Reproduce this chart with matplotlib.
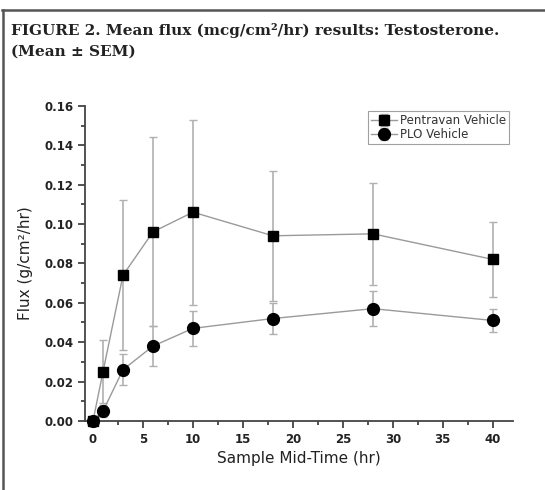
import matplotlib.pyplot as plt
from matplotlib.lines import Line2D

# Sample mid-times (hr)
time_hr = [0, 1, 3, 6, 10, 18, 28, 40]

# Pentravan vehicle: mean flux and SEM
pentravan_mean = [0.0, 0.025, 0.074, 0.096, 0.106, 0.094, 0.095, 0.082]
pentravan_sem = [0.0, 0.016, 0.038, 0.048, 0.047, 0.033, 0.026, 0.019]

# PLO vehicle: mean flux and SEM
plo_mean = [0.0, 0.005, 0.026, 0.038, 0.047, 0.052, 0.057, 0.051]
plo_sem = [0.0, 0.003, 0.008, 0.010, 0.009, 0.008, 0.009, 0.006]

fig = plt.figure(figsize=(5.45, 4.9), dpi=100)
fig.patch.set_facecolor('white')

# frame lines of the cropped figure box (top and left)
fig.add_artist(Line2D([0.004, 1.0], [0.979, 0.979], color='#555555', lw=1.8))
fig.add_artist(Line2D([0.006, 0.006], [0.0, 0.979], color='#555555', lw=1.8))

fig.text(0.020, 0.929, 'FIGURE 2. Mean flux (mcg/cm²/hr) results: Testosterone.',
         family='DejaVu Serif', weight='bold', fontsize=11, color='#222222')
fig.text(0.020, 0.887, '(Mean ± SEM)',
         family='DejaVu Serif', weight='bold', fontsize=11, color='#222222')

ax = fig.add_axes([0.156, 0.141, 0.785, 0.643])

ax.errorbar(time_hr, pentravan_mean, yerr=pentravan_sem, color='#9a9a9a', lw=1.0,
            ecolor='#b0b0b0', elinewidth=1.2, capsize=3, marker='s', ms=7,
            mfc='black', mec='black', label='Pentravan Vehicle', clip_on=False, zorder=3)
ax.errorbar(time_hr, plo_mean, yerr=plo_sem, color='#9a9a9a', lw=1.0,
            ecolor='#b0b0b0', elinewidth=1.2, capsize=3, marker='o', ms=8.5,
            mfc='black', mec='black', label='PLO Vehicle', clip_on=False, zorder=3)

ax.set_xlim(-0.8, 42)
ax.set_ylim(0, 0.16)
ax.set_xticks([0, 5, 10, 15, 20, 25, 30, 35, 40])
ax.set_xticks([2.5, 7.5, 12.5, 17.5, 22.5, 27.5, 32.5, 37.5], minor=True)
ax.set_yticks([0.0, 0.02, 0.04, 0.06, 0.08, 0.10, 0.12, 0.14, 0.16])
ax.set_yticks([0.01, 0.03, 0.05, 0.07, 0.09, 0.11, 0.13, 0.15], minor=True)
ax.set_yticklabels(['%.2f' % v for v in ax.get_yticks()])

for s in ['top', 'right']:
    ax.spines[s].set_visible(False)
for s in ['left', 'bottom']:
    ax.spines[s].set_color('#444444')
    ax.spines[s].set_linewidth(1.3)

ax.tick_params(which='major', direction='out', length=5, width=1.3, color='#444444',
               labelsize=8.5, labelcolor='#222222')
ax.tick_params(which='minor', direction='out', length=3, width=1.3, color='#444444')
for lab in ax.get_xticklabels() + ax.get_yticklabels():
    lab.set_fontweight('bold')

ax.set_xlabel('Sample Mid-Time (hr)', fontsize=11, color='#222222', labelpad=4)
ax.set_ylabel('Flux (g/cm²/hr)', fontsize=11, color='#222222', labelpad=8)

leg = ax.legend(loc='upper right', bbox_to_anchor=(1.0, 0.995), fontsize=8.5,
                frameon=True, fancybox=False, edgecolor='#888888', handlelength=2.2,
                borderpad=0.25, labelspacing=0.1, handletextpad=0.3, borderaxespad=0.3)
leg.get_frame().set_linewidth(0.8)
for t in leg.get_texts():
    t.set_color('#333333')

fig.savefig('out.png', dpi=100)
